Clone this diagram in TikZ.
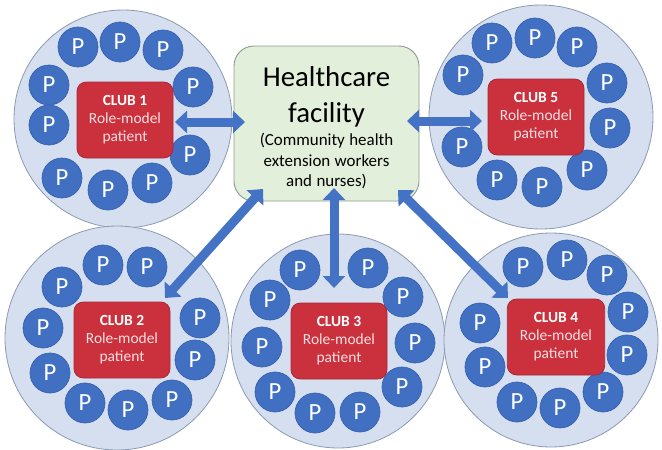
\documentclass[tikz,border=0pt]{standalone}
\usepackage{fontspec}
\setmainfont{Carlito}
\usetikzlibrary{arrows.meta}
\definecolor{bigfill}{HTML}{D6DFEF}
\definecolor{bigline}{HTML}{8A9AB2}
\definecolor{pblue}{HTML}{4170C2}
\definecolor{pline}{HTML}{3460AE}
\definecolor{clubred}{HTML}{CB303D}
\definecolor{clubline}{HTML}{A8283A}
\definecolor{pinktext}{HTML}{F6E0E1}
\definecolor{facfill}{HTML}{E2EFDA}
\definecolor{facline}{HTML}{8E9B90}
\definecolor{arrowblue}{HTML}{4472C4}
\begin{document}
\begin{tikzpicture}[x=0.75pt,y=-0.75pt,
  bigcircle/.style={circle, fill=bigfill, draw=bigline, line width=0.6pt, inner sep=0pt},
  pcircle/.style={circle, fill=pblue, draw=pline, line width=0.5pt, minimum size=30pt, inner sep=0pt,
    text=white, font=\fontsize{18.5}{18.5}\selectfont},
  clubbox/.style={rounded corners=7pt, fill=clubred, draw=clubline, line width=0.6pt,
    minimum width=72pt, minimum height=57pt, inner sep=0pt, align=center, text=pinktext,
    font=\fontsize{11.6}{13.4}\selectfont},
  facbox/.style={rounded corners=15pt, fill=facfill, draw=facline, line width=0.7pt,
    minimum width=138.75pt, minimum height=116.25pt, inner sep=0pt, text width=136pt, align=center},
  linkarrow/.style={draw=arrowblue, line width=6.75pt,
    {Triangle[length=9pt,width=16.5pt]}-{Triangle[length=9pt,width=16.5pt]}}
]
\useasboundingbox (0,0) rectangle (662,450);

% big circles
\node[bigcircle, minimum size=163.5pt] (c1) at (123,119) {};
\node[bigcircle, minimum size=168pt] (c5) at (541,117) {};
\node[bigcircle, minimum size=168pt] (c2) at (117,338) {};
\node[bigcircle, minimum size=160.5pt] (c3) at (338,341) {};
\node[bigcircle, minimum size=160.5pt] (c4) at (551,340) {};

% P circles
\foreach \x/\y [count=\i] in {78/47,120/42,163/50,193/87,49/85,49/125,190/155,62/178,108/190,152/183}
  \node[pcircle] (pa\i) at (\x,\y) {P};
\foreach \x/\y [count=\i] in {492/43,535/38,577/47,607/83,610/128,587/170,542/187,497/180,462/147,463/75}
  \node[pcircle] (pe\i) at (\x,\y) {P};
\foreach \x/\y [count=\i] in {103/265,147/267,62/287,200/318,43/328,195/360,50/373,172/400,85/403,128/410}
  \node[pcircle] (pb\i) at (\x,\y) {P};
\foreach \x/\y [count=\i] in {300/270,368/268,270/300,403/297,262/347,415/343,275/392,402/387,315/413,360/412}
  \node[pcircle] (pc\i) at (\x,\y) {P};
\foreach \x/\y [count=\i] in {523/267,567/260,607/275,628/312,627/355,603/392,560/408,517/402,485/367,480/323}
  \node[pcircle] (pd\i) at (\x,\y) {P};

% club boxes
\node[clubbox] (club1) at (125,120) {\textcolor{white}{\bfseries CLUB 1}\\Role-model\\patient};
\node[clubbox] (club5) at (536,117) {\textcolor{white}{\bfseries CLUB 5}\\Role-model\\patient};
\node[clubbox] (club2) at (122,340) {\textcolor{white}{\bfseries CLUB 2}\\Role-model\\patient};
\node[clubbox] (club3) at (339,341) {\textcolor{white}{\bfseries CLUB 3}\\Role-model\\patient};
\node[clubbox, minimum width=73pt] (club4) at (556,337) {\textcolor{white}{\bfseries CLUB 4}\\Role-model\\patient};

% healthcare facility
\node[facbox] (fac) at (326.5,123.5) {%
  {\fontsize{21.6}{26.5}\selectfont \rule{0pt}{22pt}Healthcare\\facility\par}%
  \vspace{2pt}%
  {\fontsize{12.7}{15.5}\selectfont (Community health\\extension workers\\and nurses)\par}};

% arrow end points
\coordinate (a1a) at (175,122);
\coordinate (a1b) at (245,122);
\coordinate (a5a) at (407,121);
\coordinate (a5b) at (482,121);
\coordinate (a3a) at (334,188);
\coordinate (a3b) at (334,288);
\coordinate (a2a) at (263,189);
\coordinate (a2b) at (165,298);
\coordinate (a4a) at (398,190);
\coordinate (a4b) at (508,298);

\draw[linkarrow] (a1a) -- (a1b);
\draw[linkarrow] (a5a) -- (a5b);
\draw[linkarrow] (a3a) -- (a3b);
\draw[linkarrow] (a2a) -- (a2b);
\draw[linkarrow] (a4a) -- (a4b);
\end{tikzpicture}
\end{document}
